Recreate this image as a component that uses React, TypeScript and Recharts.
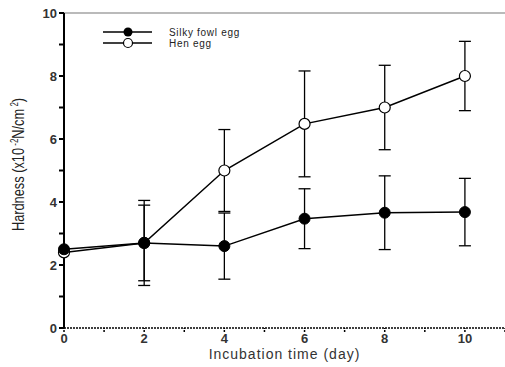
import React from 'react';
import { LineChart, Line, XAxis, YAxis, ErrorBar, ReferenceLine, Label } from 'recharts';

const days = [0, 2, 4, 6, 8, 10];
const silkyHardness = [2.5, 2.7, 2.6, 3.47, 3.66, 3.68];
const silkyError = [0, 1.2, 1.05, 0.95, 1.17, 1.07];
const henHardness = [2.4, 2.7, 5.0, 6.48, 7.0, 8.0];
const henError = [0, 1.35, 1.3, 1.68, 1.34, 1.1];

const xTicks = [0, 1, 2, 3, 4, 5, 6, 7, 8, 9, 10, 11];
const yTicks = [0, 1, 2, 3, 4, 5, 6, 7, 8, 9, 10];

const data = days.map((d, i) => ({
    day: d,
    silky: silkyHardness[i],
    silkyErr: silkyError[i],
    hen: henHardness[i],
    henErr: henError[i],
}));

const FONT = 'Liberation Sans, Arial, sans-serif';

const evenOnly = (v: number) => (v % 2 === 0 ? String(v) : '');

const YTitle = ({ viewBox }: any) => {
    const cx = 24;
    const cy = viewBox.y + viewBox.height / 2 - 6;
    return (
        <text
            transform={`translate(${cx},${cy}) rotate(-90) scale(0.8,1)`}
            textAnchor="middle"
            fontFamily={FONT}
            fontSize={16}
            fill="#222"
        >
            Hardness (x10
            <tspan fontSize={10} dy={-6}> -2</tspan>
            <tspan dy={6}>N/cm</tspan>
            <tspan fontSize={10} dy={-6}> 2</tspan>
            <tspan dy={6}>)</tspan>
        </text>
    );
};

const LegendBox = () => (
    <g fontFamily={FONT} fontSize={10} fill="#222" letterSpacing={0.7}>
        <line x1={103} y1={32} x2={152} y2={32} stroke="#000" strokeWidth={1.3} />
        <circle cx={128} cy={32} r={4.5} fill="#000" />
        <text x={169} y={35.5}>Silky fowl egg</text>
        <line x1={103} y1={43} x2={152} y2={43} stroke="#000" strokeWidth={1.3} />
        <circle cx={128} cy={43} r={4.5} fill="#fff" stroke="#000" strokeWidth={1.2} />
        <text x={169} y={47}>Hen egg</text>
    </g>
);

export default function App() {
    return (
        <div style={{ position: 'absolute', left: 0, top: 0, width: 505, height: 367, background: '#fff' }}>
            <LineChart
                width={505}
                height={367}
                data={data}
                margin={{ top: 13, right: 0, left: 24, bottom: 14 }}
            >
                <XAxis
                    dataKey="day"
                    type="number"
                    domain={[0, 11]}
                    ticks={xTicks}
                    tickFormatter={(v: number) => (v <= 10 ? evenOnly(v) : '')}
                    tickSize={4}
                    height={25}
                    stroke="#000"
                    strokeWidth={1.5}
                    strokeDasharray="2 1"
                    tick={{ fill: '#333', fontSize: 13, fontFamily: FONT, fontWeight: 'bold' }}
                >
                    <Label
                        value="Incubation time (day)"
                        position="bottom"
                        offset={-4}
                        style={{ fill: '#333', fontSize: 14, fontFamily: FONT, letterSpacing: 1 }}
                    />
                </XAxis>
                <YAxis
                    type="number"
                    domain={[0, 10]}
                    ticks={yTicks}
                    tickFormatter={evenOnly}
                    tickSize={5}
                    width={40}
                    stroke="#000"
                    strokeWidth={2}
                    tick={{ fill: '#333', fontSize: 13, fontFamily: FONT, fontWeight: 'bold' }}
                >
                    <Label content={<YTitle />} />
                </YAxis>
                <ReferenceLine y={10} stroke="#777" strokeWidth={1.2} />
                <Line
                    dataKey="hen"
                    stroke="#000"
                    strokeWidth={1.5}
                    dot={{ r: 5.5, fill: '#fff', stroke: '#000', strokeWidth: 1.2 }}
                    isAnimationActive={false}
                >
                    <ErrorBar dataKey="henErr" width={6} stroke="#000" strokeWidth={1.3} />
                </Line>
                <Line
                    dataKey="silky"
                    stroke="#000"
                    strokeWidth={1.5}
                    dot={{ r: 5.5, fill: '#000', stroke: '#000', strokeWidth: 1 }}
                    isAnimationActive={false}
                >
                    <ErrorBar dataKey="silkyErr" width={6} stroke="#000" strokeWidth={1.3} />
                </Line>
                <LegendBox />
            </LineChart>
        </div>
    );
}
